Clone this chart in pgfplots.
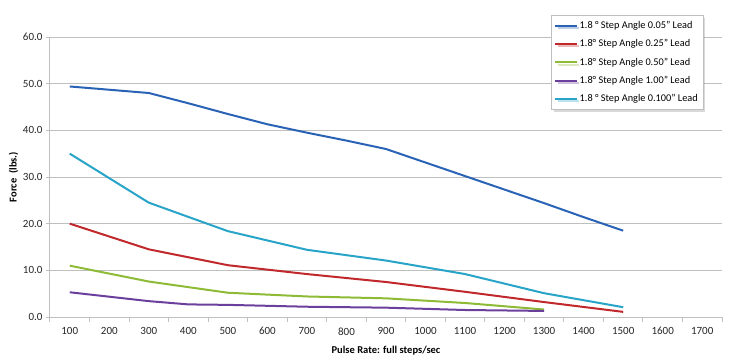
\documentclass[border=0pt]{standalone}
\usepackage{fontspec}
\setmainfont{Carlito}
\usepackage{pgfplots}
\pgfplotsset{compat=1.18}
\usetikzlibrary{shadows}
\definecolor{cblue}{HTML}{2A63B5}
\definecolor{cred}{HTML}{C0282B}
\definecolor{cgreen}{HTML}{8DBB35}
\definecolor{cpurple}{HTML}{6B3F9C}
\definecolor{ccyan}{HTML}{27A4C8}
\definecolor{gridc}{HTML}{BFBFBF}
\begin{document}
\begin{tikzpicture}
\begin{axis}[
  scale only axis,
  width=672pt, height=280pt,
  xmin=50, xmax=1750,
  ymin=0, ymax=60,
  axis x line=bottom, axis y line=left,
  axis line style={gridc, line width=1pt, -},
  xtick={100,200,...,1700},
  minor xtick={50,150,...,1750},
  major x tick style={draw=none},
  minor x tick style={gridc, line width=1pt},
  minor tick length=5pt,
  ytick={0,10,...,60},
  y tick style={gridc, line width=1pt},
  major tick length=4pt,
  tick align=outside,
  ymajorgrids,
  major grid style={gridc, line width=1pt},
  /pgf/number format/assume math mode=true,
  yticklabel style={/pgf/number format/.cd, fixed, fixed zerofill, precision=1},
  xticklabel style={yshift=-3pt, /pgf/number format/.cd, 1000 sep={}},
  tick label style={font=\fontsize{11}{12}\selectfont, text=black!85},
  xlabel={\bfseries Pulse Rate: full steps/sec},
  ylabel={\bfseries Force\ \ (lbs.)},
  xlabel style={font=\fontsize{10.5}{12}\selectfont, yshift=-4pt},
  ylabel style={font=\fontsize{10.5}{12}\selectfont, yshift=-2pt},
  legend style={at={(rel axis cs:0.9717,1.0786)}, anchor=north east,
    draw=gridc, fill=white, drop shadow={opacity=0.3},
    font=\fontsize{10.3}{12}\selectfont, row sep=5.6pt,
    inner xsep=3pt, inner ysep=4pt},
  legend image code/.code={\draw[#1] (0cm,0cm) -- (0.75cm,0cm);},
  legend cell align=left,
  every axis plot/.append style={line width=2pt, mark=none},
]
\addplot[cblue] coordinates {(100,49.4)(300,48.0)(400,45.8)(500,43.5)(600,41.3)(700,39.5)(800,37.8)(900,36.0)(1000,33.1)(1100,30.2)(1200,27.3)(1300,24.4)(1400,21.4)(1500,18.5)};
\addlegendentry{1.8 ° Step Angle 0.05" Lead}
\addplot[cred] coordinates {(100,20.0)(300,14.5)(500,11.1)(700,9.2)(900,7.5)(1100,5.4)(1300,3.2)(1500,1.1)};
\addlegendentry{1.8° Step Angle 0.25" Lead}
\addplot[cgreen] coordinates {(100,11.0)(300,7.6)(500,5.2)(700,4.4)(900,4.0)(1100,3.0)(1300,1.6)};
\addlegendentry{1.8° Step Angle 0.50" Lead}
\addplot[cpurple] coordinates {(100,5.3)(300,3.4)(400,2.7)(500,2.6)(700,2.2)(900,2.0)(1100,1.5)(1300,1.3)};
\addlegendentry{1.8° Step Angle 1.00" Lead}
\addplot[ccyan] coordinates {(100,35.0)(300,24.5)(500,18.4)(700,14.4)(900,12.1)(1100,9.2)(1300,5.1)(1500,2.1)};
\addlegendentry{1.8 ° Step Angle 0.100" Lead}
\end{axis}
\pgfresetboundingbox
\path (current axis.south west) ++(-50pt,-43pt) rectangle ++(729pt,360pt);
\end{tikzpicture}
\end{document}
